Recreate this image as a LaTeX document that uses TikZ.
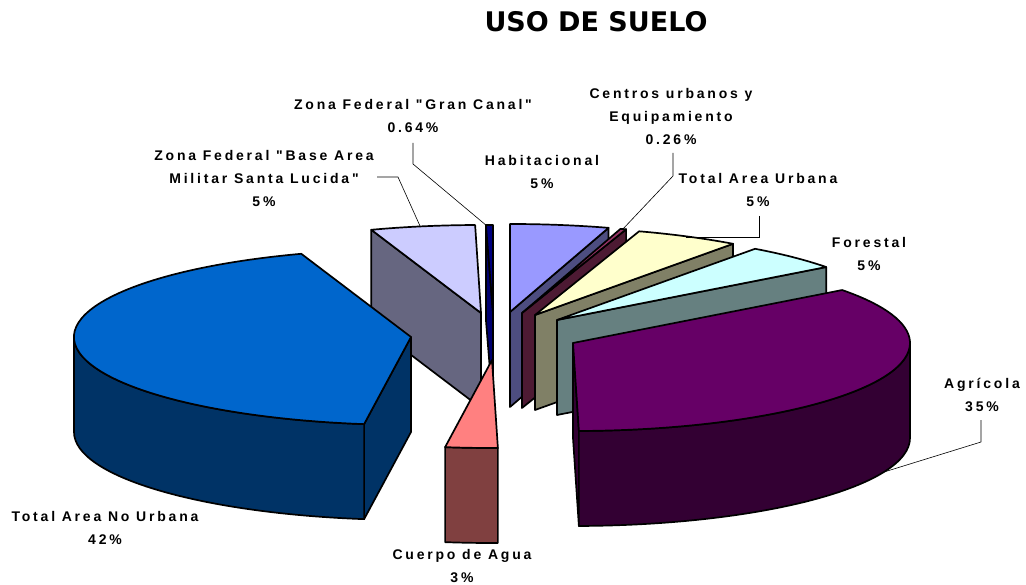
\documentclass[tikz,border=0pt]{standalone}
\usepackage{fontspec}
\setmainfont{Liberation Sans}
\newfontfamily\lblfont{Liberation Sans}[LetterSpace=20]
\newfontfamily\titlefont{DejaVu Sans}
\usetikzlibrary{calc}
\definecolor{gcT}{HTML}{000080}
\definecolor{gcS}{HTML}{000070}
\definecolor{bmT}{HTML}{CCCCFF}
\definecolor{bmS}{HTML}{666680}
\definecolor{habT}{HTML}{9999FF}
\definecolor{habS}{HTML}{4D4D80}
\definecolor{cuT}{HTML}{993366}
\definecolor{cuS}{HTML}{4D1A33}
\definecolor{tauT}{HTML}{FFFFCC}
\definecolor{tauS}{HTML}{808066}
\definecolor{forT}{HTML}{CCFFFF}
\definecolor{forS}{HTML}{668080}
\definecolor{agrT}{HTML}{660066}
\definecolor{agrS}{HTML}{330033}
\definecolor{cdaT}{HTML}{FF8080}
\definecolor{cdaS}{HTML}{804040}
\definecolor{tanuT}{HTML}{0066CC}
\definecolor{tanuS}{HTML}{003366}
\def\pdep{95}
\newcommand\topface[4]{%
  \filldraw[face, fill=#4] (#1) -- ($(#1)+(#2:337pt and 88pt)$) arc[start angle=#2, end angle=#3, x radius=337pt, y radius=88pt] -- cycle;}
\newcommand\radface[3]{%
  \filldraw[face, fill=#3] (#1) -- ($(#1)+(#2:337pt and 88pt)$) -- ($(#1)+(#2:337pt and 88pt)+(0,-\pdep)$) -- ($(#1)+(0,-\pdep)$) -- cycle;}
\newcommand\outface[4]{%
  \filldraw[face, fill=#4] ($(#1)+(#2:337pt and 88pt)$) arc[start angle=#2, end angle=#3, x radius=337pt, y radius=88pt] -- ++(0,-\pdep) arc[start angle=#3, end angle=#2, x radius=337pt, y radius=88pt] -- cycle;}
\begin{document}
\begin{tikzpicture}[x=1pt,y=1pt,
  face/.style={draw=black, line width=1.7pt, line join=round},
  lbl/.style={font=\lblfont\bfseries\fontsize{14}{23}\selectfont, align=center, inner sep=0pt},
  leader/.style={draw=black, line width=0.6pt}]
\useasboundingbox[fill=white] (0,0) rectangle (1026,-585);
\node[font=\titlefont\bfseries\fontsize{27}{27}\selectfont] (title) at (596,-22) {USO DE SUELO};
% slice apexes
\coordinate (gc) at (493,-313);
\coordinate (bm) at (481,-313);
\coordinate (hab) at (510,-312);
\coordinate (cu) at (522,-313);
\coordinate (tau) at (535,-315);
\coordinate (fo) at (557,-320);
\coordinate (agr) at (573,-343);
\coordinate (cda) at (492,-360);
\coordinate (tanu) at (411,-337);
% Zona Federal Gran Canal
\radface{gc}{91.2}{gcS}
\topface{gc}{90}{91.2}{gcT}
% Base Area Militar
\radface{bm}{109}{bmS}
\topface{bm}{91}{109}{bmT}
% Habitacional
\radface{hab}{73}{habS}
\topface{hab}{73}{90}{habT}
% Centros urbanos
\radface{cu}{72}{cuS}
\topface{cu}{72}{73}{cuT}
% Total Area Urbana
\radface{tau}{54}{tauS}
\topface{tau}{54}{72}{tauT}
% Forestal
\radface{fo}{37}{forS}
\topface{fo}{37}{54}{forT}
% Total Area No Urbana
\radface{tanu}{262}{tanuS}
\outface{tanu}{180}{262}{tanuS}
\topface{tanu}{109}{262}{tanuT}
% Agricola
\radface{agr}{-89}{agrS}
\outface{agr}{-89}{0}{agrS}
\topface{agr}{-89}{37}{agrT}
% Cuerpo de Agua
\outface{cda}{-98}{-89}{cdaS}
\topface{cda}{-98}{-89}{cdaT}
% labels
\node[lbl] (gcL) at (413,-116) {Zona Federal "Gran Canal"\\0.64\%};
\node[lbl] (bmL) at (264,-178) {Zona Federal "Base Area\\Militar Santa Lucida"\\5\%};
\node[lbl] (habL) at (542,-171.5) {Habitacional\\5\%};
\node[lbl] (cuL) at (671,-116) {Centros urbanos y\\Equipamiento\\0.26\%};
\node[lbl] (tauL) at (758,-189.5) {Total Area Urbana\\5\%};
\node[lbl] (forL) at (869,-253.5) {Forestal\\5\%};
\node[lbl] (agrL) at (982,-394.5) {Agrícola\\35\%};
\node[lbl] (tanuL) at (105,-527.5) {Total Area No Urbana\\42\%};
\node[lbl] (cdaL) at (462,-566) {Cuerpo de Agua\\3\%};
% leader lines
\coordinate (gcA) at (413,-143); \coordinate (gcB) at (413,-164); \coordinate (gcE) at (487,-226);
\draw[leader] (gcA) -- (gcB) -- (gcE);
\coordinate (bmA) at (377,-177); \coordinate (bmB) at (398,-177); \coordinate (bmE) at (420,-226);
\draw[leader] (bmA) -- (bmB) -- (bmE);
\coordinate (cuA) at (673,-153); \coordinate (cuB) at (673,-176); \coordinate (cuE) at (622,-230);
\draw[leader] (cuA) -- (cuB) -- (cuE);
\coordinate (tauA) at (759,-216); \coordinate (tauB) at (759,-237); \coordinate (tauE) at (686,-237);
\draw[leader] (tauA) -- (tauB) -- (tauE);
\coordinate (agrA) at (981,-420); \coordinate (agrB) at (981,-442); \coordinate (agrE) at (884,-472);
\draw[leader] (agrA) -- (agrB) -- (agrE);
\end{tikzpicture}
\end{document}
